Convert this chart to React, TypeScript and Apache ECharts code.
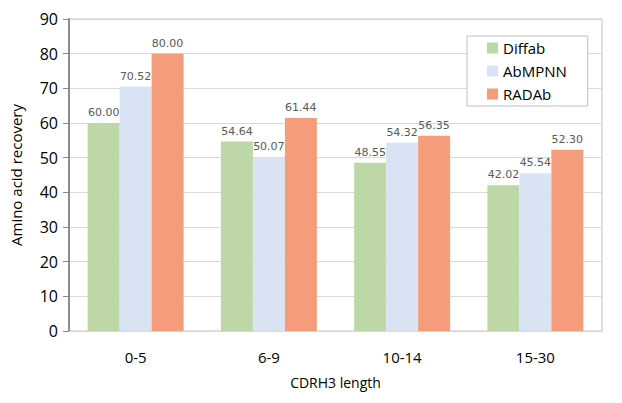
import React, { useEffect, useRef } from "react";
import * as echarts from "echarts";

const categories = ["0-5", "6-9", "10-14", "15-30"];
const seriesNames = ["Diffab", "AbMPNN", "RADAb"];
const diffab = [60.0, 54.64, 48.55, 42.02];
const abmpnn = [70.52, 50.07, 54.32, 45.54];
const radab = [80.0, 61.44, 56.35, 52.3];
const colors = ["#BDD7A6", "#DAE3F3", "#F59D7B"];

const FONT = "'Open Sans', 'Noto Sans', sans-serif";

export default function App() {
  const ref = useRef<HTMLDivElement>(null);
  useEffect(() => {
    document.body.style.margin = "0";
    if (!ref.current) return;
    const chart = echarts.init(ref.current, undefined, { renderer: "svg" });
    const values = [diffab, abmpnn, radab];
    chart.setOption({
      animation: false,
      backgroundColor: "#ffffff",
      grid: {
        left: 68,
        right: 20,
        top: 19,
        bottom: 72,
        show: true,
        borderColor: "#BFBFBF",
        borderWidth: 1,
        backgroundColor: "transparent",
      },
      legend: {
        orient: "vertical",
        left: 467,
        top: 36,
        data: seriesNames,
        icon: "rect",
        itemWidth: 11,
        itemHeight: 11,
        itemGap: 7,
        padding: [4, 21, 4, 20],
        borderColor: "#BFBFBF",
        borderWidth: 1,
        backgroundColor: "#ffffff",
        textStyle: { fontFamily: FONT, fontSize: 15, color: "#000", lineHeight: 16 },
      },
      xAxis: {
        type: "category",
        data: categories,
        axisLine: { lineStyle: { color: "#D9D9D9", width: 1 } },
        axisTick: { show: false },
        axisLabel: { fontFamily: FONT, fontSize: 15, color: "#000", margin: 18 },
        name: "CDRH3 length",
        nameLocation: "middle",
        nameGap: 44,
        nameTextStyle: { fontFamily: FONT, fontSize: 14, color: "#000" },
      },
      yAxis: {
        type: "value",
        min: 0,
        max: 90,
        interval: 10,
        axisLine: { show: true, lineStyle: { color: "#8C8C8C", width: 2 } },
        axisTick: { show: true, length: 6, lineStyle: { color: "#8C8C8C", width: 1 } },
        axisLabel: { fontFamily: FONT, fontSize: 16, color: "#000", margin: 11 },
        splitLine: { lineStyle: { color: "#D9D9D9", width: 1 } },
        name: "Amino acid recovery",
        nameLocation: "middle",
        nameGap: 46,
        nameTextStyle: { fontFamily: FONT, fontSize: 15, color: "#000" },
      },
      series: seriesNames.map((name, i) => ({
        name,
        type: "bar",
        data: values[i],
        barGap: "0%",
        barCategoryGap: "28%",
        itemStyle: { color: colors[i] },
        label: {
          show: true,
          position: "top",
          distance: 5,
          formatter: (p: any) => Number(p.value).toFixed(2),
          fontFamily: "'DejaVu Sans', sans-serif",
          fontSize: 11,
          color: "#595959",
        },
      })),
    });
    return () => chart.dispose();
  }, []);
  return <div ref={ref} style={{ width: 622, height: 403 }} />;
}
